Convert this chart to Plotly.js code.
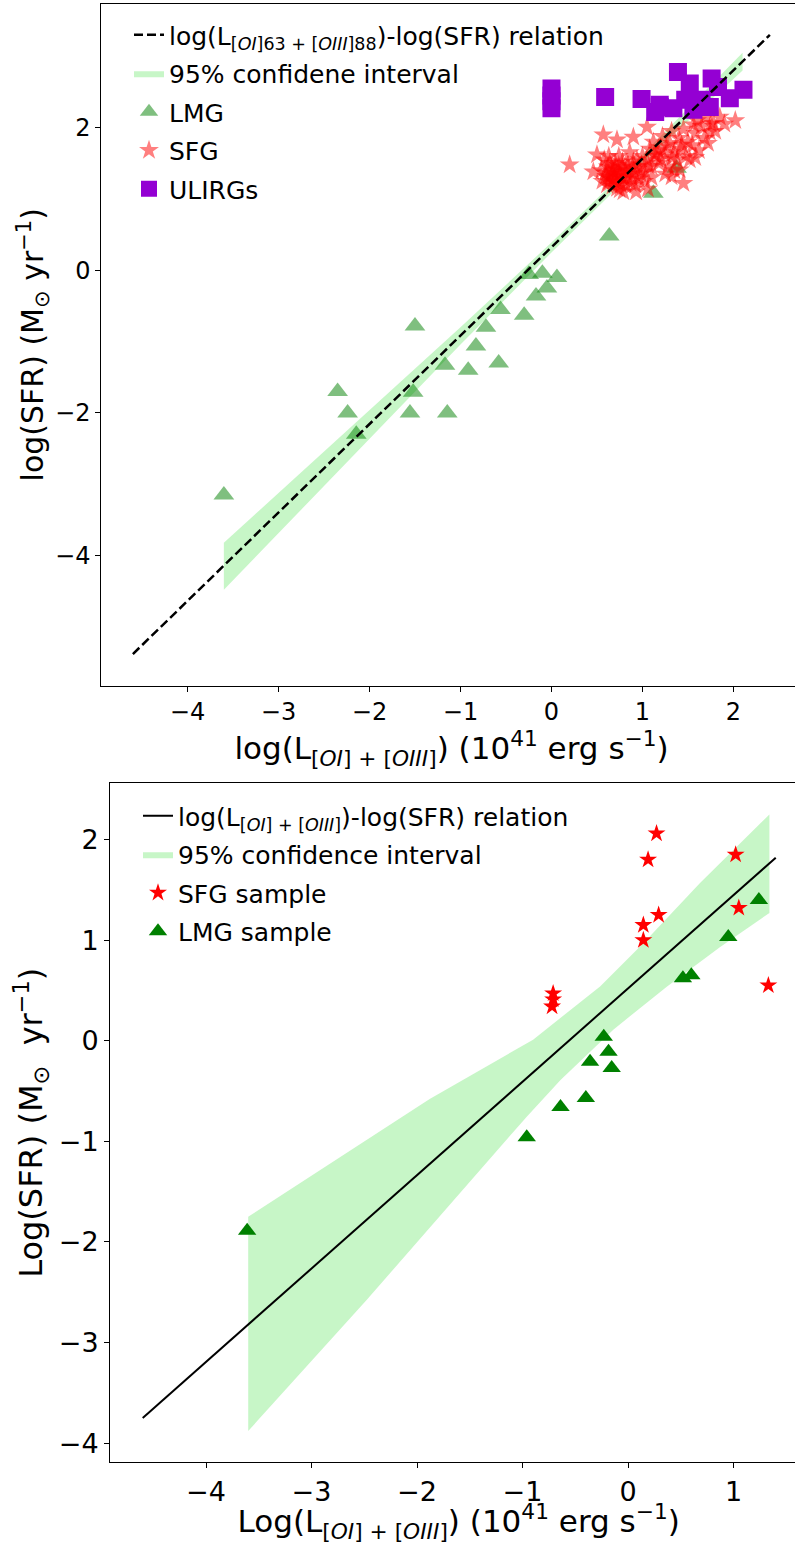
<!DOCTYPE html>
<html>
<head>
<meta charset="utf-8">
<script src="https://cdn.plot.ly/plotly-3.0.1.min.js"></script>
<style>
html, body { margin: 0; padding: 0; background: #fff; overflow: hidden; width: 795px; height: 1544px; }
#chart { width: 812px; height: 1544px; }
</style>
</head>
<body>
<div id="chart"></div>
<script>
// ---------------- Top panel data ----------------
const topLineX = [-4.6, 2.4];
const topLineY = [-5.38, 3.30];

const topBandX     = [-3.6, -3.0, -2.0, -1.0, 0.0, 1.0, 2.1];
const topBandUpper = [-3.82, -3.12, -1.96, -0.80, 0.39, 1.62, 3.05];
const topBandLower = [-4.48, -3.68, -2.36, -1.04, 0.25, 1.50, 2.80];

const topLmgX = [-3.60, -2.35, -2.24, -2.145, -1.50, -1.555, -1.52, -1.145, -1.17, -0.915, -0.83, -0.72, -0.58, -0.56, -0.30, -0.25, -0.17, -0.10, -0.05, 0.06, 0.635, 1.12, 1.375];
const topLmgY = [-3.15, -1.70, -2.00, -2.30, -0.78, -2.00, -1.71, -2.00, -1.33, -1.40, -1.06, -0.80, -1.30, -0.55, -0.63, -0.06, -0.36, -0.04, -0.25, -0.10, 0.48, 1.08, 1.43];

const topSfgX = [0.55, 0.60, 0.62, 0.65, 0.68, 0.70, 0.72, 0.75, 0.78, 0.80, 0.82, 0.85, 0.88, 0.90, 0.92, 0.95, 0.98, 1.00, 1.02, 0.58, 0.63, 0.67, 0.74, 0.79, 0.86, 0.93, 0.70, 0.77, 0.84, 0.66,
  0.56, 0.61, 0.64, 0.69, 0.73, 0.59, 0.63, 0.71, 0.76, 0.81, 0.87, 0.91, 0.96, 0.66, 0.74, 0.83, 0.89, 0.99, 1.03, 0.62, 0.68, 0.78, 0.94, 1.07, 0.72,
  1.05, 1.08, 1.10, 1.12, 1.15, 1.18, 1.20, 1.22, 1.25, 1.28, 1.30, 1.32, 1.35, 1.38, 1.40, 1.42, 1.45, 1.48, 1.50, 1.10, 1.25, 1.35, 1.13, 1.17, 1.27, 1.33, 1.43, 1.20,
  1.55, 1.58, 1.62, 1.65, 1.68, 1.72, 1.75, 1.80, 1.85, 1.90, 1.60, 1.70, 1.52, 1.58,
  0.20, 0.57, 0.72, 0.90, 1.05, 0.46, 0.50, 0.75, 1.06, 1.45, 1.41, 1.32, 2.02, 1.56, 1.78, 1.74];
const topSfgY = [1.40, 1.32, 1.45, 1.28, 1.38, 1.50, 1.22, 1.35, 1.45, 1.28, 1.18, 1.40, 1.30, 1.52, 1.20, 1.42, 1.35, 1.60, 1.25, 1.55, 1.60, 1.18, 1.60, 1.10, 1.65, 1.10, 1.42, 1.30, 1.48, 1.35,
  1.25, 1.20, 1.50, 1.30, 1.40, 1.36, 1.24, 1.33, 1.20, 1.38, 1.22, 1.36, 1.28, 1.44, 1.47, 1.32, 1.44, 1.48, 1.38, 1.30, 1.26, 1.52, 1.55, 1.46, 1.15,
  1.55, 1.70, 1.45, 1.80, 1.60, 1.50, 1.72, 1.88, 1.62, 1.45, 1.78, 1.95, 1.65, 1.55, 1.85, 1.70, 1.98, 1.60, 1.80, 1.30, 1.35, 1.40, 1.62, 1.68, 1.75, 1.58, 1.76, 1.56,
  1.75, 1.92, 1.68, 2.02, 1.85, 1.78, 2.05, 1.95, 2.15, 2.05, 2.10, 2.15, 1.55, 1.58,
  1.48, 1.90, 1.83, 1.87, 2.01, 1.38, 1.62, 1.13, 1.14, 1.22, 1.41, 1.31, 2.10, 2.04, 2.06, 1.94];

const topUlirgX = [0.0, 0.0, 0.0, 0.0, 0.59, 0.99, 1.19, 1.14, 1.39, 1.47, 1.52, 1.76, 1.83, 1.74, 2.11, 1.96, 1.34, 1.19, 1.65, 1.56];
const topUlirgY = [2.55, 2.45, 2.37, 2.27, 2.43, 2.40, 2.32, 2.22, 2.78, 2.39, 2.62, 2.69, 2.57, 2.29, 2.53, 2.41, 2.27, 2.29, 2.39, 2.25];

// ---------------- Bottom panel data ----------------
const botLineX = [-4.6, 1.4];
const botLineY = [-3.75, 1.82];

const botBandUpperX = [-3.6, -1.88, -0.9, -0.265, 0.145, 0.68, 1.34];
const botBandUpperY = [-1.75, -0.58, 0.01, 0.54, 0.97, 1.565, 2.25];
const botBandLowerX = [-3.6, -2.48, -0.96, -0.64, -0.14, 0.37, 0.87, 1.34];
const botBandLowerY = [-3.88, -2.58, -0.755, -0.39, 0.11, 0.54, 0.93, 1.27];

const botSfgX = [0.27, 0.19, 1.02, 0.29, 0.145, 0.145, 1.05, 1.33, -0.71, -0.71, -0.72];
const botSfgY = [2.06, 1.80, 1.85, 1.25, 1.15, 1.00, 1.32, 0.55, 0.47, 0.41, 0.34];

const botLmgX = [1.24, 0.95, 0.52, 0.60, -0.23, -0.185, -0.36, -0.155, -0.40, -0.64, -0.96, -3.61];
const botLmgY = [1.40, 1.03, 0.62, 0.65, 0.04, -0.11, -0.21, -0.27, -0.57, -0.66, -0.96, -1.89];

// ---------------- Build polygons ----------------
const topPolyX = topBandX.concat(topBandX.slice().reverse());
const topPolyY = topBandUpper.concat(topBandLower.slice().reverse());
const botPolyX = botBandUpperX.concat(botBandLowerX.slice().reverse());
const botPolyY = botBandUpperY.concat(botBandLowerY.slice().reverse());

const FONT = 'DejaVu Sans, Liberation Sans, sans-serif';
const bandColor = 'rgba(144,238,144,0.5)';

const traces = [
  // top panel
  {x: topPolyX, y: topPolyY, type: 'scatter', mode: 'lines', fill: 'toself', fillcolor: bandColor,
   line: {width: 0}, name: '95% confidene interval', xaxis: 'x', yaxis: 'y', legend: 'legend', legendrank: 2, legendgroup: 'a2', hoverinfo: 'skip'},
  {x: topLmgX, y: topLmgY, type: 'scatter', mode: 'markers', name: 'LMG', xaxis: 'x', yaxis: 'y', legend: 'legend', legendrank: 3, legendgroup: 'a3',
   marker: {symbol: 'triangle-up', size: 18, color: 'rgba(0,128,0,0.5)', line: {width: 0}}},
  {x: topSfgX, y: topSfgY, type: 'scatter', mode: 'markers', name: 'SFG', xaxis: 'x', yaxis: 'y', legend: 'legend', legendrank: 4, legendgroup: 'a4',
   marker: {symbol: 'star', size: 15, color: 'rgba(255,0,0,0.5)', line: {width: 0}}},
  {x: topUlirgX, y: topUlirgY, type: 'scatter', mode: 'markers', name: 'ULIRGs', xaxis: 'x', yaxis: 'y', legend: 'legend', legendrank: 5, legendgroup: 'a5',
   marker: {symbol: 'square', size: 18, color: '#9400D3', line: {width: 0}}},
  {x: topLineX, y: topLineY, type: 'scatter', mode: 'lines', xaxis: 'x', yaxis: 'y', legend: 'legend', legendrank: 1, legendgroup: 'a1',
   name: 'log(L<sub>[<i>OI</i>]63 + [<i>OIII</i>]88</sub>)-log(SFR) relation',
   line: {color: 'black', width: 2.5, dash: '9px,4px'}},
  // bottom panel
  {x: botPolyX, y: botPolyY, type: 'scatter', mode: 'lines', fill: 'toself', fillcolor: bandColor,
   line: {width: 0}, name: '95% confidence interval', xaxis: 'x2', yaxis: 'y2', legend: 'legend2', legendrank: 2, legendgroup: 'b2', hoverinfo: 'skip'},
  {x: botLineX, y: botLineY, type: 'scatter', mode: 'lines', xaxis: 'x2', yaxis: 'y2', legend: 'legend2', legendrank: 1, legendgroup: 'b1',
   name: 'log(L<sub>[<i>OI</i>] + [<i>OIII</i>]</sub>)-log(SFR) relation',
   line: {color: 'black', width: 2}},
  {x: botSfgX, y: botSfgY, type: 'scatter', mode: 'markers', name: 'SFG sample', xaxis: 'x2', yaxis: 'y2', legend: 'legend2', legendrank: 3, legendgroup: 'b3',
   marker: {symbol: 'star', size: 13.5, color: 'red', line: {width: 0}}},
  {x: botLmgX, y: botLmgY, type: 'scatter', mode: 'markers', name: 'LMG sample', xaxis: 'x2', yaxis: 'y2', legend: 'legend2', legendrank: 4, legendgroup: 'b4',
   marker: {symbol: 'triangle-up', size: 16, color: 'green', line: {width: 0}}}
];

const W = 812, H = 1544;
function axisCommon(size) {
  return {
    showgrid: false, zeroline: false, showline: true, linecolor: 'black', linewidth: 1, mirror: true,
    ticks: 'outside', ticklen: 5, tickwidth: 1, tickcolor: 'black',
    tickfont: {family: FONT, size: size, color: 'black'}, automargin: false
  };
}

const layout = {
  width: W, height: H,
  margin: {l: 0, r: 0, t: 0, b: 0},
  paper_bgcolor: 'white', plot_bgcolor: 'white',
  font: {family: FONT, color: 'black'},
  showlegend: true,
  xaxis: Object.assign(axisCommon(24), {
    domain: [101.3 / W, 801.8 / W], range: [-4.947, 2.751], anchor: 'y',
    tickvals: [-4, -3, -2, -1, 0, 1, 2],
    title: {text: 'log(L<sub>[<i>OI</i>] + [<i>OIII</i>]</sub>) (10<sup>41</sup> erg s<sup>−1</sup>)', font: {family: FONT, size: 31}, standoff: 1}
  }),
  yaxis: Object.assign(axisCommon(24), {
    domain: [1 - 685.5 / H, 1 - 4 / H], range: [-5.821, 3.733], anchor: 'x',
    tickvals: [-4, -2, 0, 2],
    title: {text: 'log(SFR) (M<sub>⊙</sub> yr<sup>−1</sup>)', font: {family: FONT, size: 30}, standoff: 2}
  }),
  xaxis2: Object.assign(axisCommon(27), {
    domain: [110 / W, 807.4 / W], range: [-4.91, 1.70], anchor: 'y2',
    tickvals: [-4, -3, -2, -1, 0, 1],
    title: {text: 'Log(L<sub>[<i>OI</i>] + [<i>OIII</i>]</sub>) (10<sup>41</sup> erg s<sup>−1</sup>)', font: {family: FONT, size: 31}, standoff: 9}
  }),
  yaxis2: Object.assign(axisCommon(27), {
    domain: [1 - 1462.3 / H, 1 - 783.3 / H], range: [-4.191, 2.559], anchor: 'x2',
    tickvals: [-4, -3, -2, -1, 0, 1, 2],
    title: {text: 'Log(SFR) (M<sub>⊙</sub>  yr<sup>−1</sup>)', font: {family: FONT, size: 32}, standoff: 6}
  }),
  legend: {
    x: 129 / W, y: 1 - 12 / H, xanchor: 'left', yanchor: 'top',
    bgcolor: 'rgba(0,0,0,0)', borderwidth: 0,
    font: {family: FONT, size: 25, color: 'black'},
    traceorder: 'grouped', tracegroupgap: 3
  },
  legend2: {
    x: 138 / W, y: 1 - 793 / H, xanchor: 'left', yanchor: 'top',
    bgcolor: 'rgba(0,0,0,0)', borderwidth: 0,
    font: {family: FONT, size: 25, color: 'black'},
    traceorder: 'grouped', tracegroupgap: 3
  }
};

Plotly.newPlot('chart', traces, layout, {staticPlot: true, displayModeBar: false});
</script>
</body>
</html>
